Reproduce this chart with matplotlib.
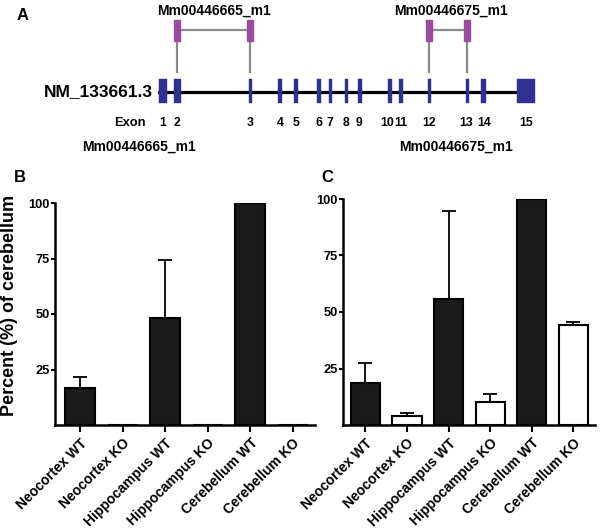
#!/usr/bin/env python3
"""Gene structure (A) and relative expression bar charts (B, C)."""

import numpy as np
import matplotlib
matplotlib.use("Agg")
import matplotlib.pyplot as plt
import matplotlib.transforms as mtransforms

plt.rcParams["font.family"] = ["Liberation Sans", "DejaVu Sans"]
plt.rcParams["font.weight"] = "bold"

# --- panel A data (diagram coordinates, exon extents along the transcript) ---
EXON_NUM = [1, 2, 3, 4, 5, 6, 7, 8, 9, 10, 11, 12, 13, 14, 15]
EXON_START = [159, 173.5, 249, 278, 294, 316.5, 329, 345, 357.5, 387.5, 398.5, 427.5, 465.5, 481, 517]
EXON_END = [167, 180.5, 251.5, 282, 297.5, 320.5, 331.5, 347.5, 361.5, 391.5, 402.5, 430.5, 468.5, 485.5, 534.5]
TRANSCRIPT = "NM_133661.3"
PROBES = ["Mm00446665_m1", "Mm00446675_m1"]
PROBE_EXONS = [(2, 3), (12, 13)]

# --- panels B, C data ---
CATEGORIES = ["Neocortex WT", "Neocortex KO", "Hippocampus WT",
              "Hippocampus KO", "Cerebellum WT", "Cerebellum KO"]
IS_WT = [True, False, True, False, True, False]
B_VALUES = [16.7, 0, 48.3, 0, 100, 0]
B_ERR = [4.9, 0, 26.0, 0, 0, 0]
C_VALUES = [18.4, 4.0, 55.6, 10.2, 100, 44.2]
C_ERR = [9.2, 1.2, 39.1, 3.5, 0, 1.4]

EXON_BLUE = "#2e3192"
PURPLE = "#9b4a9e"
GREY = "#8a8a8a"

W, H = 600, 530

# exon numbers that sit too close together get pushed apart a little
LABEL_NUDGE = {10: -2.5, 11: 0.5, 13: -0.5, 14: 0.5}


def draw_gene(ax):
    ax.set_xlim(0, W)
    ax.set_ylim(H, 0)
    ax.axis("off")

    centers = {n: (s + e) / 2 for n, s, e in zip(EXON_NUM, EXON_START, EXON_END)}

    ax.plot([EXON_START[0], EXON_START[-1]], [92, 92], color="black", lw=2.3, zorder=1)
    ax.broken_barh([(s, e - s) for s, e in zip(EXON_START, EXON_END)], (79, 24),
                   facecolors=EXON_BLUE, edgecolors=EXON_BLUE, linewidth=0.3, zorder=2)

    ax.text(153, 92, TRANSCRIPT, ha="right", va="center", fontsize=12.5, fontweight="bold")
    ax.text(146, 123, "Exon", ha="right", va="center", fontsize=9.3, fontweight="bold")
    for n in EXON_NUM:
        ax.text(centers[n] + LABEL_NUDGE.get(n, 0), 123, str(n), ha="center", va="center",
                fontsize=8.8, fontweight="bold")

    for name, (e1, e2), top_x, bot_x in zip(PROBES, PROBE_EXONS, [214, 451], [139, 456]):
        x1, x2 = centers[e1], centers[e2]
        ax.plot([x1, x2], [30, 30], color=GREY, lw=1.6, zorder=1)
        for x in (x1, x2):
            ax.plot([x, x], [38, 72], color=GREY, lw=1.6, zorder=1)
            ax.add_patch(plt.Rectangle((x - 3.2, 19.5), 6.4, 21, color=PURPLE, zorder=2))
        ax.text(top_x, 11, name, ha="center", va="center", fontsize=10, fontweight="bold")
        ax.text(bot_x, 147, name, ha="center", va="center", fontsize=10, fontweight="bold")

    ax.text(23, 15, "A", ha="center", va="center", fontsize=12, fontweight="bold")
    ax.text(20, 177, "B", ha="center", va="center", fontsize=12, fontweight="bold")
    ax.text(327, 177, "C", ha="center", va="center", fontsize=12, fontweight="bold")


def draw_bars(fig, ax, values, errs, xlim):
    x = np.arange(len(CATEGORIES))
    colors = ["#1a1a1a" if wt else "white" for wt in IS_WT]
    ax.bar(x, values, width=0.7, color=colors, edgecolor="black", linewidth=1.5, zorder=2)

    errs = np.array(errs)
    vals = np.array(values)
    m = errs > 0
    ax.errorbar(x[m], vals[m], yerr=[np.zeros(m.sum()), errs[m]], fmt="none",
                ecolor="black", elinewidth=1.3, capsize=4.8, capthick=1.3, zorder=1)

    ax.set_xlim(*xlim)
    ax.set_ylim(0, 100)
    ax.set_yticks([25, 50, 75, 100])
    ax.set_xticks(x)
    ax.set_xticklabels(CATEGORIES, rotation=45, ha="right", rotation_mode="anchor",
                       fontsize=10, fontweight="bold")
    shift = mtransforms.ScaledTranslation(3 / 72, 0, fig.dpi_scale_trans)
    for lab in ax.get_xticklabels():
        lab.set_transform(lab.get_transform() + shift)
    for lab in ax.get_yticklabels():
        lab.set_fontsize(9.3)
        lab.set_fontweight("bold")
    ax.tick_params(axis="y", length=3, width=1.5, pad=1)
    ax.tick_params(axis="x", length=5, width=1.5, pad=3)
    for side in ("top", "right"):
        ax.spines[side].set_visible(False)
    for side in ("left", "bottom"):
        ax.spines[side].set_linewidth(1.8)
    ax.set_facecolor("none")


def main():
    fig = plt.figure(figsize=(6, 5.3), dpi=100)

    ax_a = fig.add_axes([0, 0, 1, 1])
    draw_gene(ax_a)

    ax_b = fig.add_axes([55 / W, (H - 425) / H, (315 - 55) / W, (425 - 203) / H])
    draw_bars(fig, ax_b, B_VALUES, B_ERR, (-0.59, 5.52))

    ax_c = fig.add_axes([343 / W, (H - 425) / H, (595 - 343) / W, (425 - 199) / H])
    draw_bars(fig, ax_c, C_VALUES, C_ERR, (-0.54, 5.52))

    fig.text(10 / W, 1 - 305 / H, "Percent (%) of cerebellum", rotation=90,
             ha="center", va="center", fontsize=13, fontweight="bold")

    fig.savefig("out.png", dpi=100)


if __name__ == "__main__":
    main()
